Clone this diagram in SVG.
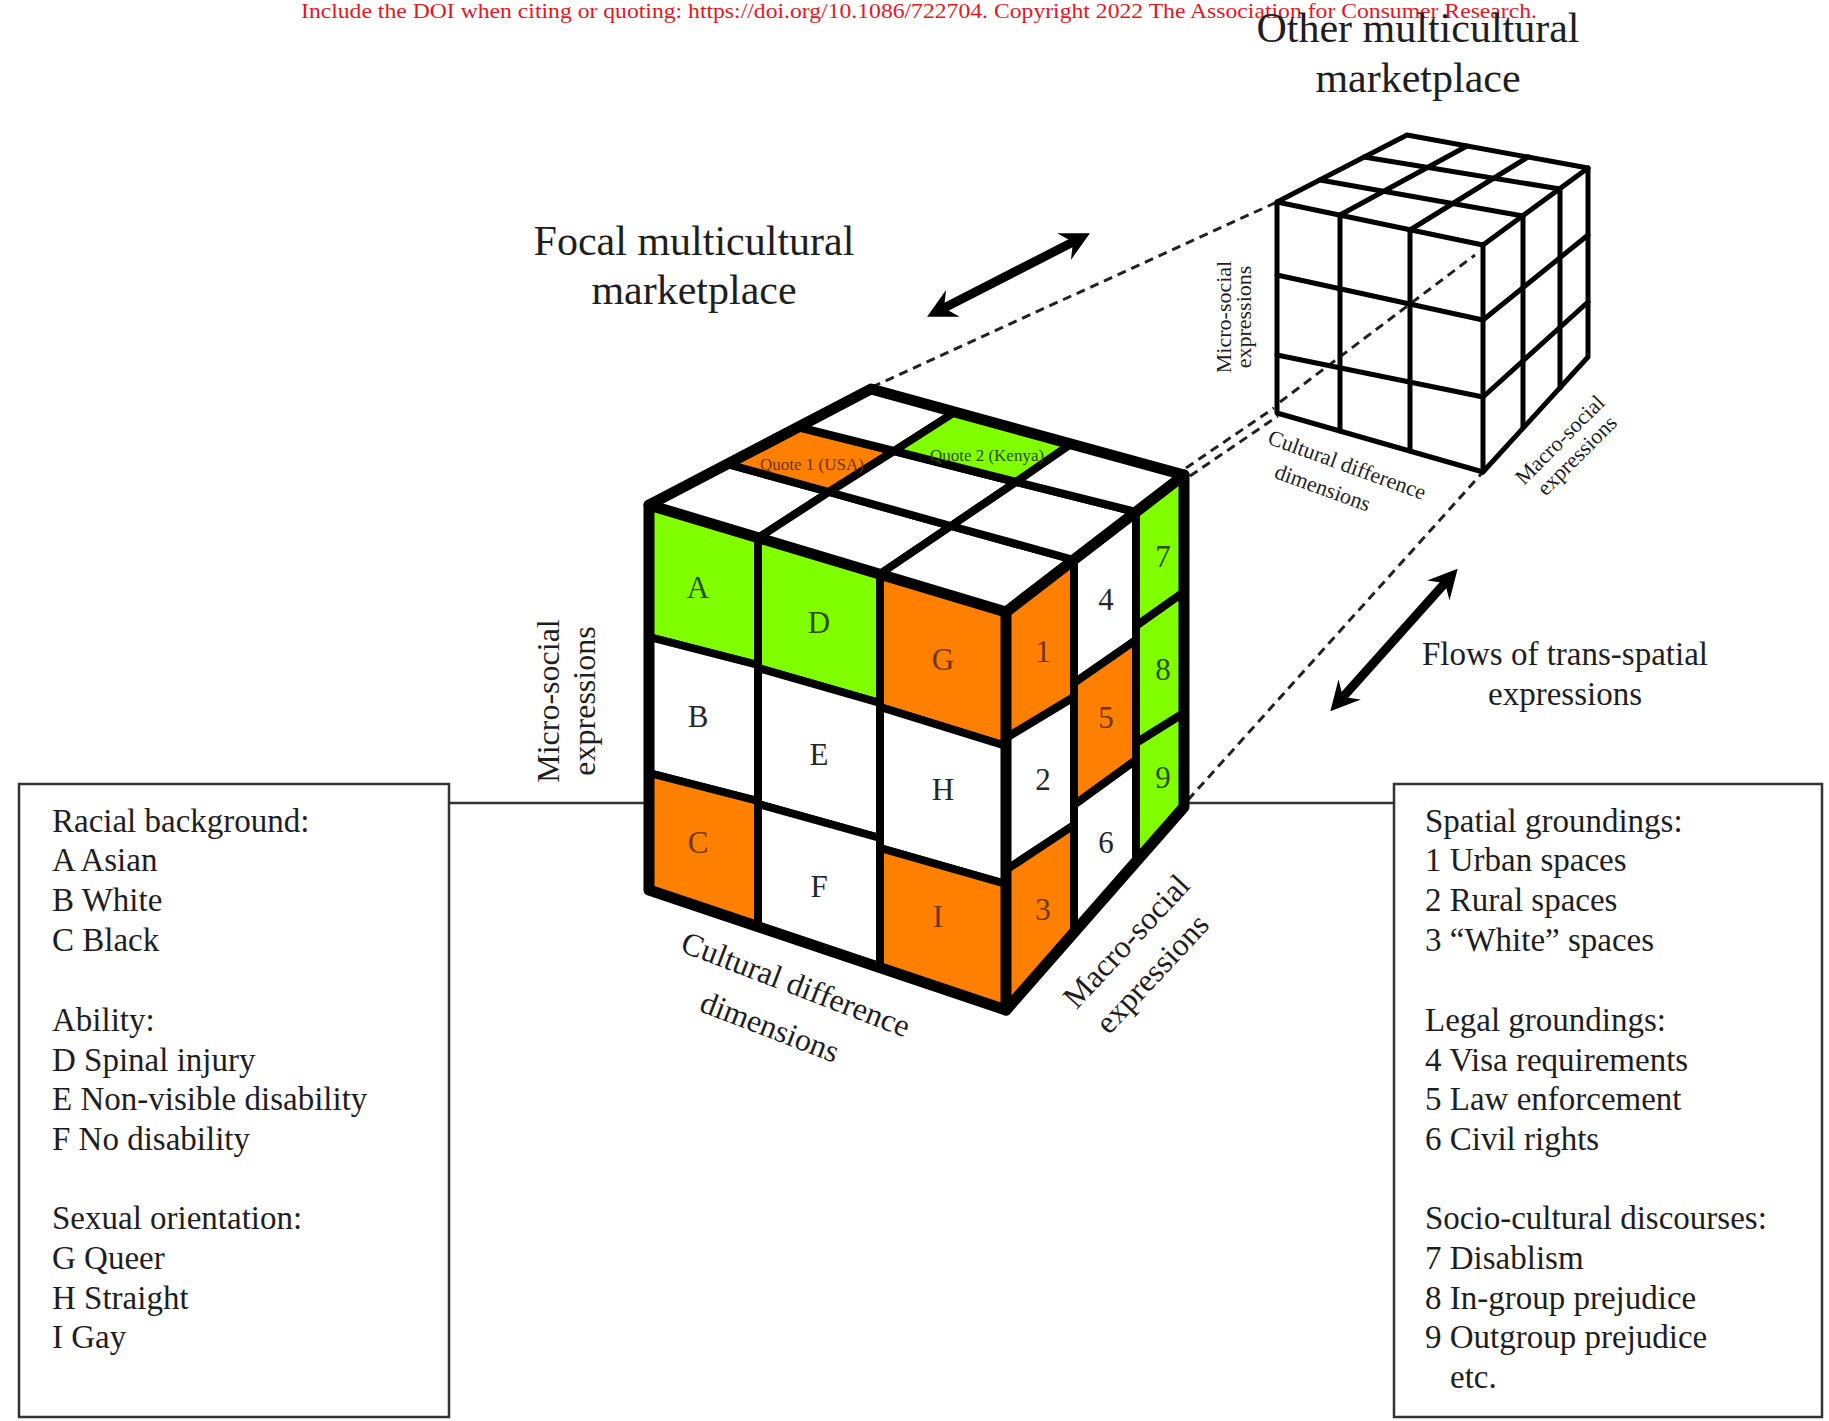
<svg xmlns="http://www.w3.org/2000/svg" width="1829" height="1421" viewBox="0 0 1829 1421">
<defs>
<style>
.t{font-family:"Liberation Serif","Times New Roman",serif;fill:#1e1e1e}
.lbl{font-size:31px;text-anchor:middle}
.mid{text-anchor:middle}
.lw{fill:#262626}.lo{fill:#6e3500}.lg{fill:#2c5000}
.c{stroke:#000;stroke-width:8;stroke-linejoin:round}
.w{fill:#fff}.o{fill:#ff8000}.g{fill:#80ff00}
.edge{fill:none;stroke:#000;stroke-width:11;stroke-linejoin:round;stroke-linecap:round}
.sm{fill:none;stroke:#000;stroke-width:5;stroke-linecap:round;stroke-linejoin:round}
.smf{fill:#fff;stroke:none}
.dash{fill:none;stroke:#222;stroke-width:3;stroke-dasharray:9 6}
.box{fill:#fff;stroke:#333;stroke-width:2.5}
.hl{stroke:#333;stroke-width:2.5}
.arr{stroke:#000;stroke-width:9;marker-start:url(#ah);marker-end:url(#ah)}
.bt{font-size:33px}
</style>
<marker id="ah" markerUnits="userSpaceOnUse" viewBox="-12 -18 36 36" markerWidth="36" markerHeight="36" refX="0" refY="0" orient="auto-start-reverse" overflow="visible"><path d="M19,0 L-10,-15 L0,0 L-10,15 Z" fill="#000"/></marker>
</defs>
<rect width="1829" height="1421" fill="#fff"/>

<g id="connectors">
  <line class="hl" x1="449" y1="803" x2="652" y2="803"/>
  <line class="hl" x1="1182" y1="803" x2="1394" y2="803"/>
  <line class="dash" x1="872" y1="387" x2="1277" y2="202"/>
  <line class="dash" x1="1186" y1="468" x2="1274" y2="408"/>
  <line class="dash" x1="1190" y1="476" x2="1278" y2="416"/>
  <line class="dash" x1="1188" y1="800" x2="1483" y2="472"/>
  <line class="dash" x1="1280" y1="402" x2="1475" y2="255"/>
  <line class="arr" x1="944" y1="308" x2="1073" y2="242"/>
  <line class="arr" x1="1343" y1="697" x2="1445" y2="583"/>
</g>

<g id="doi-note">
  <text x="301" y="18" font-family="Liberation Serif, serif" font-size="21" fill="#e8161e" textLength="1236" lengthAdjust="spacingAndGlyphs">Include the DOI when citing or quoting: https://doi.org/10.1086/722704. Copyright 2022 The Association for Consumer Research.</text>
</g>

<g id="title-focal" class="t" font-size="42">
  <text class="mid" x="694" y="255">Focal multicultural</text>
  <text class="mid" x="694" y="304">marketplace</text>
</g>

<g id="title-other" class="t" font-size="42">
  <text class="mid" x="1418" y="42">Other multicultural</text>
  <text class="mid" x="1418" y="92">marketplace</text>
</g>

<g id="flows-label" class="t" font-size="33">
  <text class="mid" x="1565" y="665">Flows of trans-spatial</text>
  <text class="mid" x="1565" y="705">expressions</text>
</g>

<g id="other-cube">
  <polygon class="smf" points="1277,202 1407,135 1588,168 1588,357 1483,472 1277,413"/>
  <line class="dash" x1="1280" y1="402" x2="1475" y2="255"/>
  <polyline class="sm" points="1320,180 1523,216"/>
  <polyline class="sm" points="1364,157 1560,189"/>
  <polyline class="sm" points="1340,215 1467,146"/>
  <polyline class="sm" points="1410,230 1528,157"/>
  <polyline class="sm" points="1277,275 1483,320 1588,235"/>
  <polyline class="sm" points="1277,355 1483,397 1588,302"/>
  <line class="sm" stroke-width="6" x1="1340" y1="215" x2="1340" y2="431"/>
  <line class="sm" stroke-width="6" x1="1410" y1="230" x2="1410" y2="451"/>
  <line class="sm" x1="1523" y1="216" x2="1523" y2="428"/>
  <line class="sm" x1="1560" y1="189" x2="1560" y2="388"/>
  <polygon class="sm" points="1277,202 1407,135 1588,168 1588,357 1483,472 1277,413"/>
  <polyline class="sm" points="1277,202 1483,245 1588,168"/>
  <line class="sm" stroke-width="7" x1="1483" y1="245" x2="1483" y2="472"/>
  <g class="t" font-size="22">
    <text class="mid" transform="translate(1231,317) rotate(-90)">Micro-social</text>
    <text class="mid" transform="translate(1251,317) rotate(-90)">expressions</text>
    <g transform="translate(1347,465) rotate(20)">
      <text class="mid" x="0" y="7">Cultural difference</text>
      <text class="mid" x="-15" y="37">dimensions</text>
    </g>
    <g transform="translate(1560,440) rotate(-45)">
      <text class="mid" x="0" y="7">Macro-social</text>
      <text class="mid" x="1" y="30">expressions</text>
    </g>
  </g>
</g>

<g id="focal-cube">
  <g id="top-face">
    <polygon class="c w" points="649,505 758,538 829,492 727,464"/>
    <polygon class="c w" points="758,538 880,574 951,526 829,492"/>
    <polygon class="c w" points="880,574 1006,612 1074,560 951,526"/>
    <polygon class="c o" points="727,464 829,492 894,451 798,427"/>
    <polygon class="c w" points="829,492 951,526 1016,482 894,451"/>
    <polygon class="c w" points="951,526 1074,560 1136,512 1016,482"/>
    <polygon class="c w" points="798,427 894,451 955,412 871,389"/>
    <polygon class="c g" points="894,451 1016,482 1071,444 955,412"/>
    <polygon class="c w" points="1016,482 1136,512 1184,475 1071,444"/>
    <text class="t mid lo" x="812" y="470" font-size="17">Quote 1 (USA)</text>
    <text class="t mid lg" x="987" y="461" font-size="17">Quote 2 (Kenya)</text>
  </g>
  <g id="front-face">
    <polygon class="c g" points="649,505 758,538 758,665 649,637"/>
    <polygon class="c g" points="758,538 880,574 880,703 758,668"/>
    <polygon class="c o" points="880,574 1006,612 1006,746 880,707"/>
    <polygon class="c w" points="649,637 758,665 758,801 649,773"/>
    <polygon class="c w" points="758,668 880,703 880,838 758,804"/>
    <polygon class="c w" points="880,707 1006,746 1006,884 880,848"/>
    <polygon class="c o" points="649,773 758,801 758,927 649,890"/>
    <polygon class="c w" points="758,804 880,838 880,968 758,927"/>
    <polygon class="c o" points="880,848 1006,884 1006,1010 880,968"/>
  </g>
  <g id="right-face">
    <polygon class="c o" points="1006,612 1074,560 1074,697 1006,738"/>
    <polygon class="c w" points="1074,560 1136,512 1136,640 1074,683"/>
    <polygon class="c g" points="1136,512 1184,475 1184,592 1136,626"/>
    <polygon class="c w" points="1006,738 1074,697 1074,825 1006,870"/>
    <polygon class="c o" points="1074,683 1136,640 1136,760 1074,805"/>
    <polygon class="c g" points="1136,626 1184,592 1184,713 1136,743"/>
    <polygon class="c o" points="1006,870 1074,825 1074,932 1006,1010"/>
    <polygon class="c w" points="1074,805 1136,760 1136,862 1074,932"/>
    <polygon class="c g" points="1136,743 1184,713 1184,807 1136,862"/>
  </g>
  <polygon class="edge" points="649,505 871,389 1184,475 1184,807 1006,1010 649,890"/>
  <polyline class="edge" points="649,505 1006,612 1184,475"/>
  <line class="edge" x1="1006" y1="612" x2="1006" y2="1010"/>
  <g class="t lbl">
    <text class="lg" x="698" y="598">A</text>
    <text class="lg" x="819" y="633">D</text>
    <text class="lo" x="943" y="670">G</text>
    <text class="lw" x="698" y="727">B</text>
    <text class="lw" x="819" y="765">E</text>
    <text class="lw" x="943" y="800">H</text>
    <text class="lo" x="698" y="853">C</text>
    <text class="lw" x="819" y="897">F</text>
    <text class="lo" x="938" y="927">I</text>
    <text class="lo" x="1043" y="662">1</text>
    <text class="lw" x="1043" y="790">2</text>
    <text class="lo" x="1043" y="920">3</text>
    <text class="lw" x="1106" y="610">4</text>
    <text class="lo" x="1106" y="728">5</text>
    <text class="lw" x="1106" y="853">6</text>
    <text class="lg" x="1163" y="567">7</text>
    <text class="lg" x="1163" y="680">8</text>
    <text class="lg" x="1163" y="788">9</text>
  </g>
  <g class="t" font-size="32">
    <text class="mid" transform="translate(559,701) rotate(-90)">Micro-social</text>
    <text class="mid" transform="translate(595,701) rotate(-90)">expressions</text>
    <g transform="translate(796,984) rotate(21)">
      <text class="mid" x="0" y="11">Cultural difference</text>
      <text class="mid" x="-9" y="60">dimensions</text>
    </g>
    <g transform="translate(1126,941) rotate(-47)">
      <text class="mid" x="0" y="11">Macro-social</text>
      <text class="mid" x="-6" y="52">expressions</text>
    </g>
  </g>
</g>

<g id="legend-left">
  <rect class="box" x="19" y="784" width="430" height="633"/>
  <g class="t bt">
    <text x="52" y="832">Racial background:</text>
    <text x="52" y="871">A Asian</text>
    <text x="52" y="911">B White</text>
    <text x="52" y="951">C Black</text>
    <text x="52" y="1031">Ability:</text>
    <text x="52" y="1071">D Spinal injury</text>
    <text x="52" y="1110">E Non-visible disability</text>
    <text x="52" y="1150">F No disability</text>
    <text x="52" y="1229">Sexual orientation:</text>
    <text x="52" y="1269">G Queer</text>
    <text x="52" y="1309">H Straight</text>
    <text x="52" y="1348">I Gay</text>
  </g>
</g>

<g id="legend-right">
  <rect class="box" x="1394" y="784" width="428" height="633"/>
  <g class="t bt">
    <text x="1425" y="832">Spatial groundings:</text>
    <text x="1425" y="871">1 Urban spaces</text>
    <text x="1425" y="911">2 Rural spaces</text>
    <text x="1425" y="951">3 “White” spaces</text>
    <text x="1425" y="1031">Legal groundings:</text>
    <text x="1425" y="1071">4 Visa requirements</text>
    <text x="1425" y="1110">5 Law enforcement</text>
    <text x="1425" y="1150">6 Civil rights</text>
    <text x="1425" y="1229">Socio-cultural discourses:</text>
    <text x="1425" y="1269">7 Disablism</text>
    <text x="1425" y="1309">8 In-group prejudice</text>
    <text x="1425" y="1348">9 Outgroup prejudice</text>
    <text x="1450" y="1388">etc.</text>
  </g>
</g>
</svg>
